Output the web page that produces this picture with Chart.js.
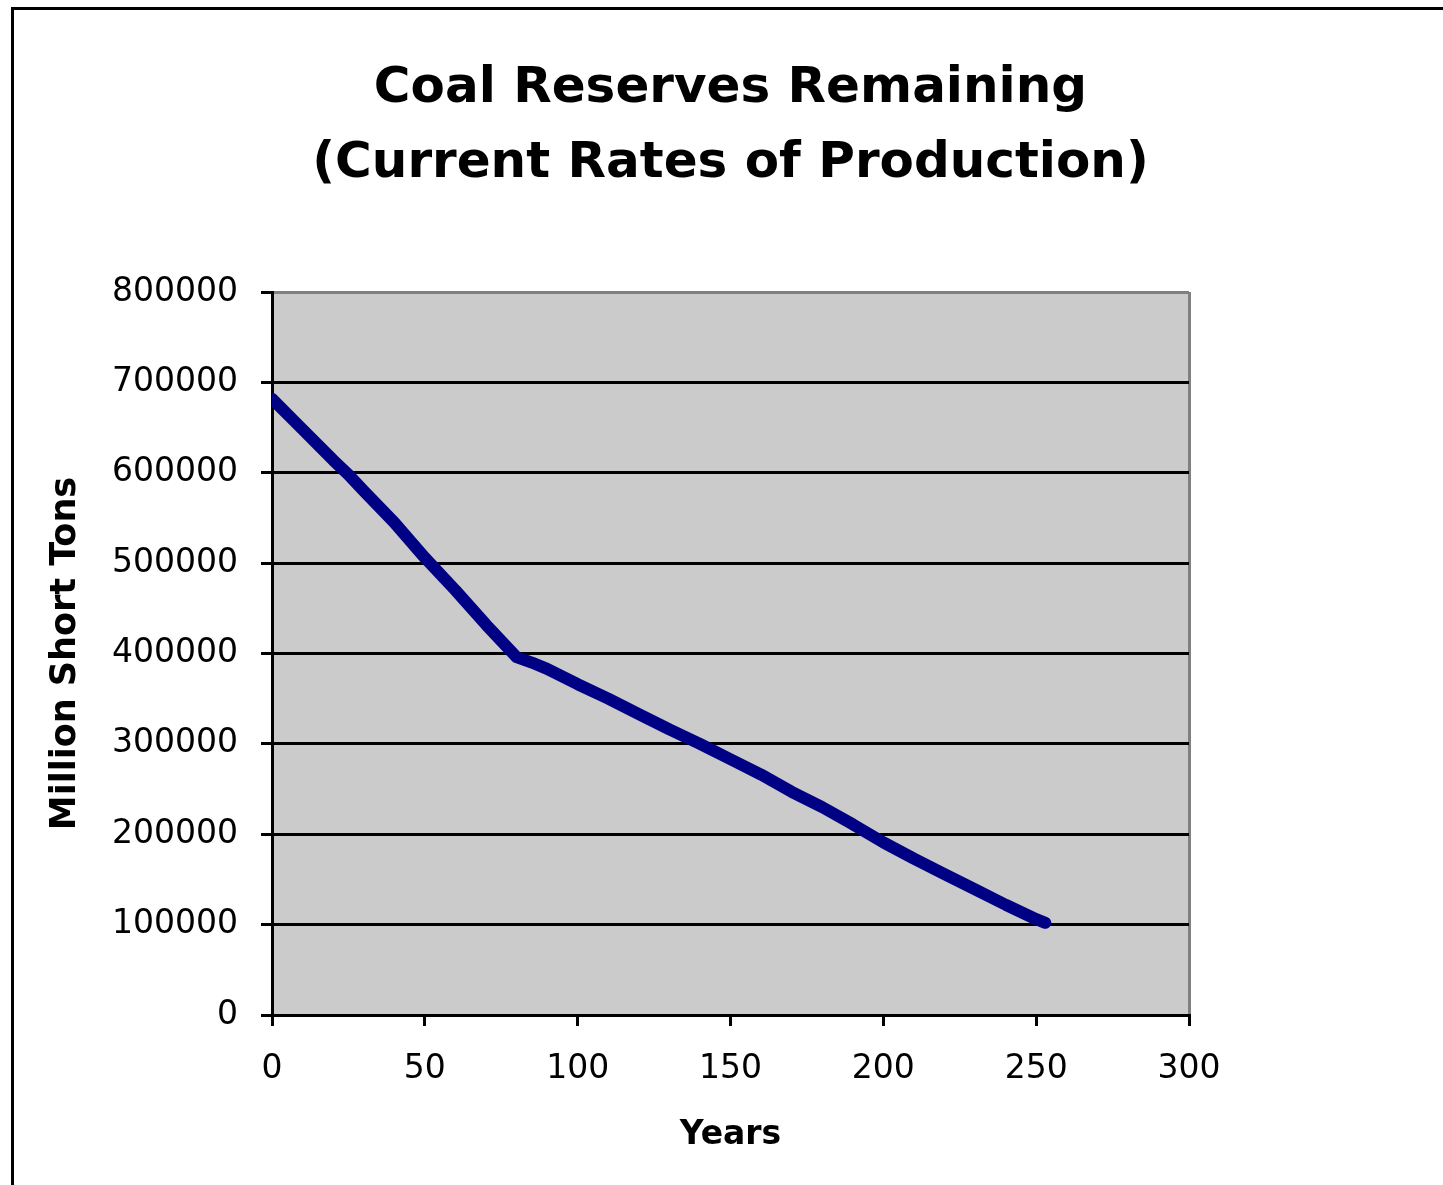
<!DOCTYPE html>
<html>
<head>
<meta charset="utf-8">
<script src="https://cdn.jsdelivr.net/npm/chart.js@4/dist/chart.umd.min.js"></script>
<style>
  html, body { margin: 0; padding: 0; background: #ffffff; }
  #wrap { width: 1443px; height: 1185px; }
</style>
</head>
<body>
<div id="wrap"><canvas id="coal" width="1443" height="1185"></canvas></div>
<script>
// Chart text
const titleLines = ['Coal Reserves Remaining', '(Current Rates of Production)'];
const xTitle = 'Years';
const yTitle = 'Million Short Tons';

// Years from now and the reserves left at that point (million short tons)
const years    = [0, 10, 20, 25, 30, 40, 50, 60, 70, 80, 85, 90, 100, 110, 120, 130, 140, 150, 160, 170, 180, 190, 200, 210, 220, 230, 240, 250, 253];
const reserves = [682000, 648000, 614000, 598000, 580000, 545000, 506000, 470000, 432000, 396000, 390000, 383000, 366000, 350000, 333000, 316000, 300000, 283000, 266000, 247000, 230000, 211000, 191000, 173000, 156000, 139000, 122000, 106000, 102000];

// Axis ranges and tick steps
const xRange = [0, 300];
const xStep = 50;
const yRange = [0, 800000];
const yStep = 100000;

const FONT = 'DejaVu Sans';
const PLOT_BG = '#cbcbcb';
const FRAME_GRAY = '#808080';

Chart.defaults.font.family = FONT;
Chart.defaults.color = '#000000';

// Gray plot background and the outer chart frame
const backdrop = {
  id: 'backdrop',
  beforeDraw(chart) {
    const { ctx, chartArea: a } = chart;
    ctx.save();
    ctx.fillStyle = '#ffffff';
    ctx.fillRect(0, 0, chart.width, chart.height);
    ctx.strokeStyle = '#000000';
    ctx.lineWidth = 3;
    ctx.strokeRect(12.5, 8.5, chart.width + 50, chart.height + 50);
    ctx.fillStyle = PLOT_BG;
    ctx.fillRect(a.left, a.top, a.right - a.left, a.bottom - a.top);
    ctx.restore();
  }
};

const points = years.map((x, i) => ({ x, y: reserves[i] }));

new Chart(document.getElementById('coal'), {
  type: 'line',
  data: {
    datasets: [{
      data: points,
      borderColor: '#000084',
      borderWidth: 12,
      borderCapStyle: 'round',
      borderJoinStyle: 'round',
      pointRadius: 0,
      tension: 0,
      fill: false
    }]
  },
  options: {
    responsive: false,
    animation: false,
    devicePixelRatio: 1,
    layout: { padding: { top: 52, left: 0, right: 254, bottom: 0 } },
    plugins: {
      legend: { display: false },
      tooltip: { enabled: false },
      title: {
        display: true,
        text: titleLines,
        fullSize: false,
        color: '#000000',
        font: { family: FONT, size: 50, weight: 'bold', lineHeight: 1.5 },
        padding: { top: 0, bottom: 90 }
      }
    },
    scales: {
      x: {
        type: 'linear',
        min: xRange[0],
        max: xRange[1],
        afterFit(s) { s.height = 170; },
        ticks: {
          stepSize: xStep,
          padding: 24,
          color: '#000000',
          font: { family: FONT, size: 33 },
          maxRotation: 0,
          callback: v => String(v)
        },
        grid: {
          lineWidth: 3,
          tickLength: 11,
          tickColor: '#000000',
          color: c => (c.tick && c.tick.value === xRange[1]) ? FRAME_GRAY : 'rgba(0,0,0,0)'
        },
        border: { display: true, color: '#000000', width: 3 },
        title: {
          display: true,
          text: xTitle,
          color: '#000000',
          font: { family: FONT, size: 33, weight: 'bold', lineHeight: 1.2 },
          padding: { top: 0, bottom: 30 }
        }
      },
      y: {
        type: 'linear',
        min: yRange[0],
        max: yRange[1],
        afterFit(s) { s.width = 272; },
        ticks: {
          stepSize: yStep,
          padding: 23,
          color: '#000000',
          font: { family: FONT, size: 33 },
          callback: v => String(v)
        },
        grid: {
          lineWidth: 3,
          tickLength: 11,
          tickColor: '#000000',
          color: c => {
            if (!c.tick) return '#000000';
            if (c.tick.value === yRange[1]) return FRAME_GRAY;
            if (c.tick.value === yRange[0]) return 'rgba(0,0,0,0)';
            return '#000000';
          }
        },
        border: { display: true, color: '#000000', width: 3 },
        title: {
          display: true,
          text: yTitle,
          color: '#000000',
          font: { family: FONT, size: 35, weight: 'bold', lineHeight: 1.2 },
          padding: { top: 45, bottom: 0 }
        }
      }
    }
  },
  plugins: [backdrop]
});
</script>
</body>
</html>
